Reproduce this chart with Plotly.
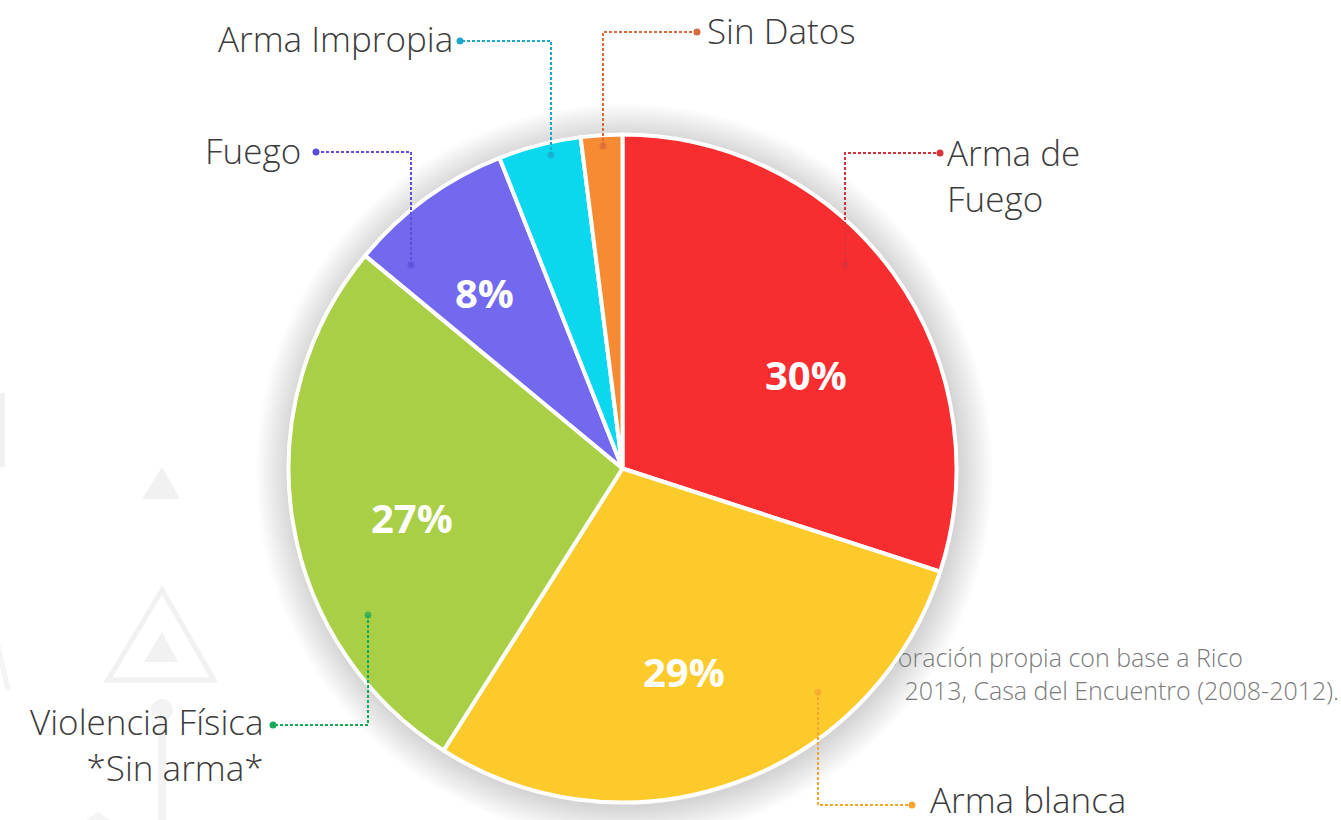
import numpy as np
import plotly.graph_objects as go

# ---------------- data ----------------
categories = ["Arma de Fuego", "Arma blanca", "Violencia Física *Sin arma*",
              "Fuego", "Arma Impropia", "Sin Datos"]
values = [30, 29, 27, 8, 4, 2]
pct_labels = ["30%", "29%", "27%", "8%", "", ""]
label_texts = ["Arma de<br>Fuego", "Arma blanca", "Violencia Física<br>*Sin arma*",
               "Fuego", "Arma Impropia", "Sin Datos"]
source_lines = ["Elaboración propia con base a Rico",
                "2013, Casa del Encuentro (2008-2012)."]

# ---------------- styles ----------------
slice_colors = ["#f72d2f", "#fdca2c", "#a9cf46", "#7369ef", "#0bd8ee", "#f68b34"]
line_colors = ["#d6343a", "#f5a630", "#17a85a", "#5b4fd8", "#1ba8c9", "#d9693a"]
W, H = 1341, 820
CX, CY, R = 622.5, 468.5, 334
# placement of the percentage text inside slices (angle nudge in degrees, radius fraction)
pct_angle_shift = [9, 3, -4, -2, 0, 0]
pct_radius_frac = [0.617, 0.636, 0.647, 0.669, 0.6, 0.6]

# callout geometry (pixels): inner dot, elbow, outer dot, label anchor, side
callouts = [
    dict(inner=(845, 265), elbow=(845, 153), outer=(940, 153), lab=(945, 175), side="left"),
    dict(inner=(818, 692), elbow=(818, 805), outer=(912, 805), lab=(928, 799), side="left"),
    dict(inner=(368, 615), elbow=(368, 725), outer=(273, 725), lab=(266, 744), side="right"),
    dict(inner=(411, 265), elbow=(411, 152), outer=(316, 152), lab=(303, 150), side="right"),
    dict(inner=(551, 155), elbow=(551, 41), outer=(460, 41), lab=(455, 38), side="right"),
    dict(inner=(603, 146), elbow=(603, 32), outer=(697, 32), lab=(705, 30), side="left"),
]

fig = go.Figure()

# source note (drawn under the pie)
fig.add_trace(go.Scatter(
    x=[1243, 1339], y=[661, 694], mode="text", text=source_lines,
    textposition="middle left", hoverinfo="skip", showlegend=False,
    textfont=dict(family="Open Sans", size=25, color="#7a7a7a", weight=300),
))

fig.add_trace(go.Pie(
    labels=categories, values=values, textinfo="none",
    sort=False, direction="clockwise", rotation=0,
    marker=dict(colors=slice_colors, line=dict(color="white", width=4)),
    domain=dict(x=[(CX - R) / W, (CX + R) / W], y=[1 - (CY + R) / H, 1 - (CY - R) / H]),
    hoverinfo="label+percent", showlegend=False,
))

shapes = []
# faint background decorations
deco = "#f1f1f1"
def bg(**kw):
    kw.setdefault("layer", "below")
    kw.setdefault("xref", "x")
    kw.setdefault("yref", "y")
    shapes.append(kw)

bg(type="path", path="M162,467 L180,499 L142,499 Z", fillcolor=deco, line=dict(width=0))
bg(type="path", path="M162,590 L214,680 L108,680 Z", fillcolor="rgba(0,0,0,0)",
   line=dict(color=deco, width=5))
bg(type="path", path="M162,632 L178,662 L144,662 Z", fillcolor=deco, line=dict(width=0))
bg(type="line", x0=162, x1=162, y0=710, y1=820, line=dict(color="#f3f3f3", width=8))
bg(type="circle", x0=151, x1=173, y0=699, y1=721, fillcolor="#f3f3f3", line=dict(width=0))
bg(type="rect", x0=-4, x1=5, y0=393, y1=467, fillcolor=deco, line=dict(width=0))
bg(type="line", x0=-6, x1=8, y0=628, y1=690, line=dict(color="#f4f4f4", width=5))
bg(type="path", path="M98,812 L110,820 L86,820 Z", fillcolor="#f4f4f4", line=dict(width=0))

# soft shadow around pie
for k in range(14):
    rr = R + 34 - k * 2.4
    bg(type="circle", x0=CX + 2 - rr, x1=CX + 2 + rr, y0=CY + 3 - rr, y1=CY + 3 + rr,
       fillcolor="rgba(0,0,0,0.011)", line=dict(width=0))

annotations = []
# percentage labels placed from the slice angles
total = float(sum(values))
cum = np.cumsum([0] + values[:-1])
for i, v in enumerate(values):
    if not pct_labels[i]:
        continue
    mid = (cum[i] + v / 2) / total * 360 + pct_angle_shift[i]
    rad = np.deg2rad(mid)
    rr = pct_radius_frac[i] * R
    annotations.append(dict(
        x=CX + rr * np.sin(rad), y=CY - rr * np.cos(rad), xref="x", yref="y",
        text=pct_labels[i], showarrow=False, xanchor="center", yanchor="middle",
        font=dict(family="Open Sans", size=40, color="white", weight=700),
    ))

for i, c in enumerate(callouts):
    col = line_colors[i]
    (x1, y1), (x2, y2), (x3, y3) = c["inner"], c["elbow"], c["outer"]
    shapes.append(dict(type="path", path=f"M{x1},{y1} L{x2},{y2} L{x3},{y3}",
                       line=dict(color=col, width=2, dash="3px,2px"), layer="above",
                       xref="x", yref="y"))
    for (px, py), op in (((x1, y1), 0.7), ((x3, y3), 1.0)):
        shapes.append(dict(type="circle", x0=px - 3.5, x1=px + 3.5, y0=py - 3.5, y1=py + 3.5,
                           fillcolor=col, opacity=op, line=dict(width=0), layer="above",
                           xref="x", yref="y"))
    lx, ly = c["lab"]
    annotations.append(dict(
        x=lx, y=ly, xref="x", yref="y", text=label_texts[i], showarrow=False,
        xanchor=c["side"], yanchor="middle", align=c["side"],
        font=dict(family="Open Sans", size=35, color="#3c3c3c", weight=300),
    ))

fig.update_layout(
    width=W, height=H, autosize=False,
    margin=dict(l=0, r=0, t=0, b=0),
    paper_bgcolor="white", plot_bgcolor="white",
    xaxis=dict(range=[0, W], visible=False, fixedrange=True),
    yaxis=dict(range=[H, 0], visible=False, fixedrange=True),
    shapes=shapes, annotations=annotations,
)

fig.write_html("out.html", config={"displayModeBar": False},
               post_script="document.body.style.margin='0';document.body.style.overflow='hidden';")
